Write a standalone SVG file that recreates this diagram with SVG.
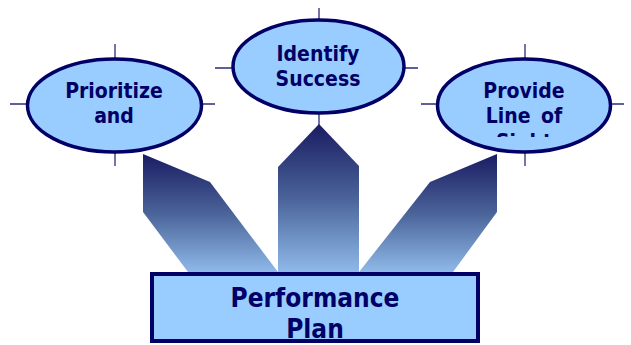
<svg xmlns="http://www.w3.org/2000/svg" width="631" height="345" viewBox="0 0 631 345">
<style>
.cross{stroke:#2a2a78;stroke-width:1.3;fill:none}
.node{fill:#99ccff;stroke:#000066;stroke-width:3.5}
.lbl{font-family:"DejaVu Sans Condensed","DejaVu Sans",sans-serif;font-stretch:condensed;font-weight:bold;fill:#000066;text-anchor:middle}
.arrow{fill:url(#g)}
</style>
<defs>
<linearGradient id="g" x1="0" y1="0" x2="0" y2="1">
<stop offset="0" stop-color="#1a1c62"/>
<stop offset="0.5" stop-color="#4a6399"/>
<stop offset="1" stop-color="#8fb9e9"/>
</linearGradient>
<clipPath id="clipR"><rect x="430" y="60" width="190" height="77"/></clipPath>
</defs>
<g id="connectors">
<polygon class="arrow" points="143,154 210,182 278,272 188,272 143,212"/>
<polygon class="arrow" points="278,167 319,124 359,166 359,272 278,272"/>
<polygon class="arrow" points="497,154 430,182 359,272 453,272 497,212"/>
</g>
<g id="node-prioritize">
<line class="cross" x1="115" y1="44" x2="115" y2="166"/>
<line class="cross" x1="10" y1="104" x2="215" y2="104"/>
<ellipse class="node" cx="114.5" cy="105.5" rx="87" ry="46.5"/>
<text class="lbl" font-size="21" x="114" y="98">Prioritize</text>
<text class="lbl" font-size="21" x="114" y="123">and</text>
</g>
<g id="node-identify">
<line class="cross" x1="319" y1="8" x2="319" y2="125"/>
<line class="cross" x1="215" y1="68" x2="418" y2="68"/>
<ellipse class="node" cx="318.5" cy="66.5" rx="85.5" ry="46.5"/>
<text class="lbl" font-size="21" x="318" y="61">Identify</text>
<text class="lbl" font-size="21" x="318" y="86">Success</text>
</g>
<g id="node-provide">
<line class="cross" x1="525" y1="44" x2="525" y2="166"/>
<line class="cross" x1="421" y1="104" x2="624" y2="104"/>
<ellipse class="node" cx="524" cy="105.5" rx="86.5" ry="46.5"/>
<g clip-path="url(#clipR)">
<text class="lbl" font-size="21" x="524" y="98">Provide</text>
<text class="lbl" font-size="21" x="524" y="123" word-spacing="4">Line of</text>
<text class="lbl" font-size="21" x="524" y="149">Sight</text>
</g>
</g>
<g id="node-plan">
<rect x="152" y="274" width="326" height="67" fill="#99ccff" stroke="#000066" stroke-width="4"/>
<text class="lbl" font-size="26" x="315" y="307">Performance</text>
<text class="lbl" font-size="26" x="315" y="338">Plan</text>
</g>
</svg>
